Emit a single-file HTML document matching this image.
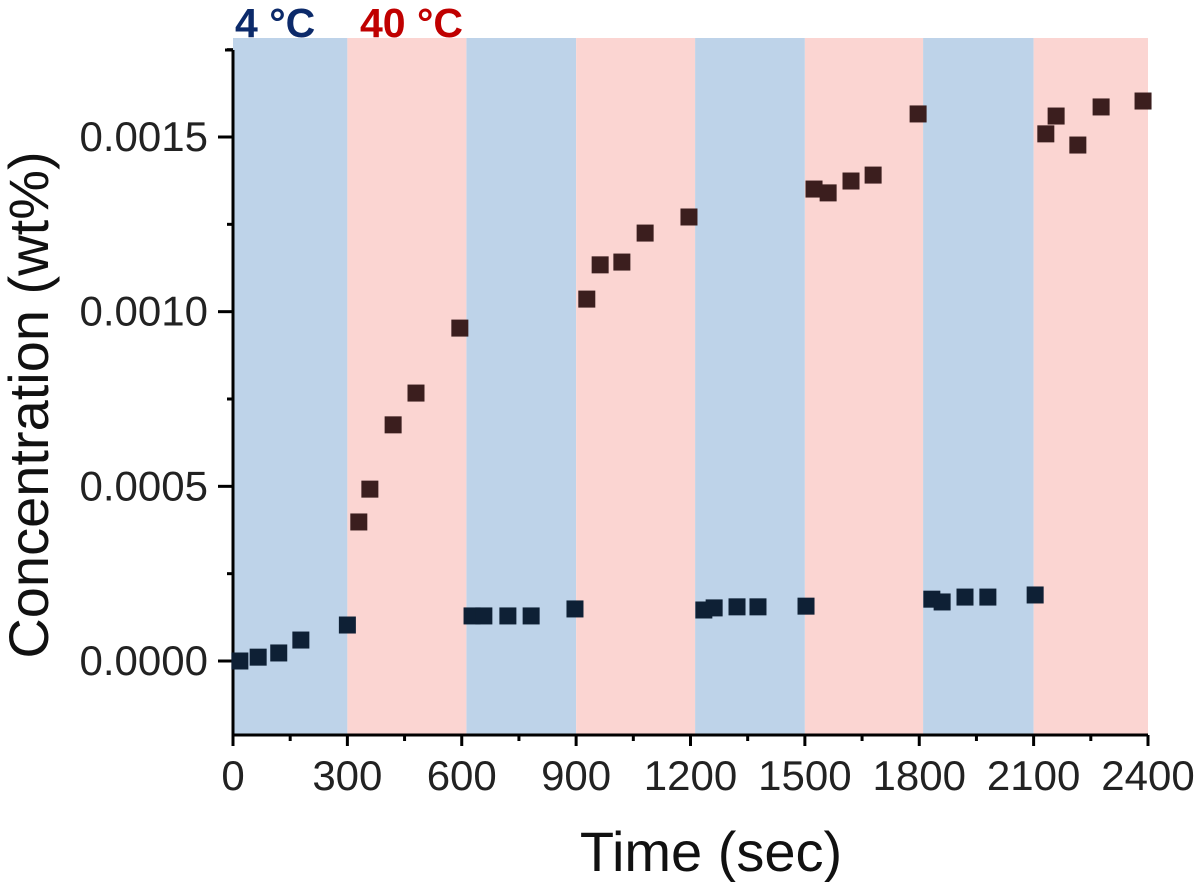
<!DOCTYPE html>
<html><head><meta charset="utf-8"><style>
html,body{margin:0;padding:0;background:#fff;}
svg text{font-family:"Liberation Sans",sans-serif;}
</style></head><body>
<svg id="chart" width="1197" height="882" viewBox="0 0 1197 882" xmlns="http://www.w3.org/2000/svg">
<g id="bands"></g>
<g id="axes"></g>
<g id="points"></g>
<text x="235" y="37" font-size="41" font-weight="bold" fill="#0c2a6a">4 °C</text>
<text x="360" y="37" font-size="41" font-weight="bold" fill="#c00000">40 °C</text>
<text x="711" y="871" font-size="56" text-anchor="middle" fill="#111">Time (sec)</text>
<text transform="translate(48,405) rotate(-90)" font-size="56" text-anchor="middle" fill="#111">Concentration (wt%)</text>
</svg>
<script>
const coldBands = [[0,300],[612,900],[1212,1500],[1810,2100]];
const hotBands = [[300,612],[900,1212],[1500,1810],[2100,2400]];
const xTicks = [0,300,600,900,1200,1500,1800,2100,2400];
const yTicks = [0,0.0005,0.0010,0.0015];
const yTickLabels = ["0.0000","0.0005","0.0010","0.0015"];
const lowTime = [18,66,120,178,300,627,658,721,782,897,1235,1262,1322,1377,1503,1833,1860,1920,1980,2104];
const lowConc = [0.0000,0.000011,0.000023,0.00006,0.000103,0.000129,0.000129,0.000129,0.000129,0.000149,0.000146,0.000152,0.000155,0.000155,0.000157,0.000177,0.000169,0.000183,0.000183,0.000189];
const highTime = [330,359,420,480,595,928,963,1020,1081,1196,1524,1561,1621,1679,1797,2132,2159,2216,2277,2387];
const highConc = [0.000398,0.000492,0.000676,0.000767,0.000953,0.001036,0.001134,0.001142,0.001225,0.001271,0.001351,0.00134,0.001374,0.001391,0.001566,0.001509,0.00156,0.001477,0.001586,0.001603];

const NS="http://www.w3.org/2000/svg";
const X0=233,X1=1148,Y0=661,YPER=349333;
const xs=t=>X0+(t/2400)*(X1-X0);
const ys=v=>Y0-v*YPER;
const TOP=38,BOT=734;
function mk(tag,attrs,parent){const e=document.createElementNS(NS,tag);for(const k in attrs)e.setAttribute(k,attrs[k]);parent.appendChild(e);return e;}
const bands=document.getElementById('bands');
coldBands.forEach(b=>{const r=mk('rect',{x:xs(b[0]),y:TOP,width:xs(b[1])-xs(b[0]),height:BOT-TOP,fill:'#bed3e9'},bands);

});
hotBands.forEach(b=>{const r=mk('rect',{x:xs(b[0]),y:TOP,width:xs(b[1])-xs(b[0]),height:BOT-TOP,fill:'#fbd5d2'},bands);

});
const ax=document.getElementById('axes');
let yl=mk('line',{x1:X0,y1:50,x2:X0,y2:736,stroke:'#000','stroke-width':3},ax);


mk('line',{x1:X0-8,y1:50,x2:X0,y2:50,stroke:'#000','stroke-width':3},ax);
let xl=mk('line',{x1:X0-1,y1:735,x2:X1,y2:735,stroke:'#000','stroke-width':3},ax);


xTicks.forEach((t,i)=>{mk('line',{x1:xs(t),y1:735,x2:xs(t),y2:746,stroke:'#000','stroke-width':3},ax);
if(i<xTicks.length-1)mk('line',{x1:xs(t+150),y1:735,x2:xs(t+150),y2:741,stroke:'#000','stroke-width':3},ax);
const tx=mk('text',{x:xs(t),y:790,'font-size':42,'text-anchor':'middle',fill:'#222'},ax);tx.textContent=t;

});
yTicks.forEach((v,i)=>{mk('line',{x1:X0-15,y1:ys(v),x2:X0,y2:ys(v),stroke:'#000','stroke-width':3},ax);
mk('line',{x1:X0-6,y1:ys(v+0.00025),x2:X0,y2:ys(v+0.00025),stroke:'#000','stroke-width':3},ax);
const tx=mk('text',{x:208,y:ys(v)+14,'font-size':42,'text-anchor':'end',fill:'#222'},ax);tx.textContent=yTickLabels[i];

});
const pts=document.getElementById('points');
const S=17;
lowTime.forEach((t,i)=>{const r=mk('rect',{x:xs(t)-S/2,y:ys(lowConc[i])-S/2,width:S,height:S,fill:'#0e2035'},pts);

});
highTime.forEach((t,i)=>{const r=mk('rect',{x:xs(t)-S/2,y:ys(highConc[i])-S/2,width:S,height:S,fill:'#3b1e1e'},pts);

});
</script>
</body></html>
